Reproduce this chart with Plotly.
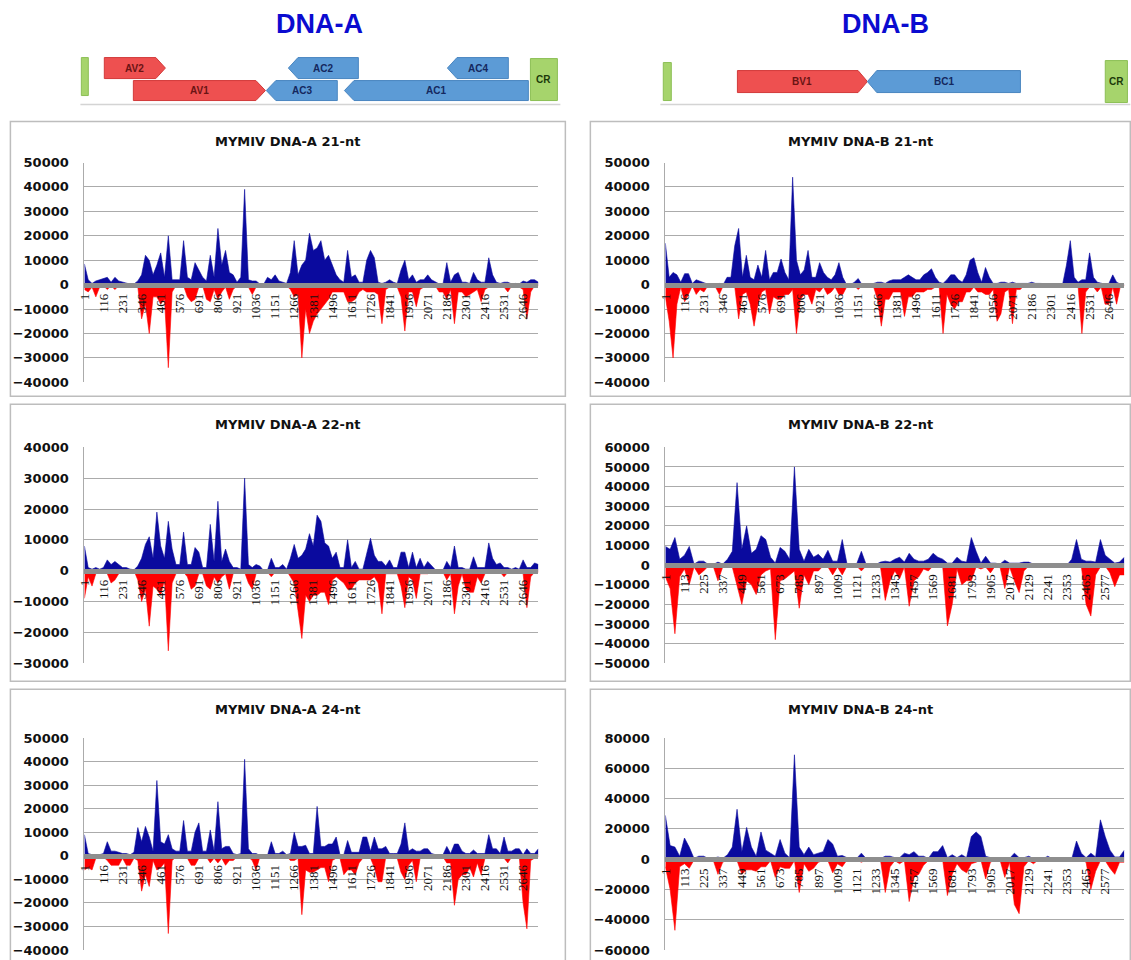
import plotly.graph_objects as go

W, H = 1131, 960
SCALE = 1000  # series values below are read in thousands of reads

# ---------------- sampling grids (nucleotide positions) ----------------
STEP_A = 23
STEP_B = 28
POS_A = list(range(1, 1 + STEP_A * 120, STEP_A))   # 1 .. 2738
POS_B = list(range(1, 1 + STEP_B * 97, STEP_B))    # 1 .. 2689

TICKS_A = [1, 116, 231, 346, 461, 576, 691, 806, 921, 1036, 1151, 1266, 1381, 1496,
           1611, 1726, 1841, 1956, 2071, 2186, 2301, 2416, 2531, 2646]
TICKS_B = [1, 113, 225, 337, 449, 561, 673, 785, 897, 1009, 1121, 1233, 1345, 1457,
           1569, 1681, 1793, 1905, 2017, 2129, 2241, 2353, 2465, 2577]

# ---------------- DNA-A 21-nt ----------------
A21_POS = [8.5, 2, 0.5, 1.5, 2, 2.5, 3, 1, 3, 1.5, 1, 0.5, 0.2, 0.3, 1.5,
           4, 12, 10, 4, 8, 13, 3, 20, 2, 2, 2, 18, 3, 2, 9,
           6, 3, 1.5, 12, 3, 23, 8, 14, 5, 4, 1, 3, 39, 2, 1.5,
           1.5, 0.3, 0.2, 3, 2, 4, 1.5, 1, 0.5, 5, 18, 4, 8, 10, 21,
           14, 15, 18, 10, 12, 8, 4, 2, 1, 14, 3, 4, 1, 1, 10,
           14, 11, 1, 0.5, 1, 2, 1, 0.5, 6, 10, 2, 4, 1, 2, 2,
           4, 2, 1, 0.3, 0.3, 9, 1, 4, 5, 1, 1, 0.5, 5, 2, 1,
           1, 11, 4, 1, 0.5, 1, 1, 0.3, 0.5, 0.3, 1.5, 1, 2, 2, 1]
A21_NEG = [-2, -3, -1, -5, -1, -0.5, -2, -0.5, -2, -0.5, 0, 0, 0, 0, -1,
           -14, -8, -20, -5, -5, -8, -6, -34, -3, -0.5, -0.5, -0.5, -5, -7, -6,
           -1, -0.5, -6, -7, -2, -6, -3, -1, -6, -2, -0.5, -0.5, -0.5, -1, -4,
           -1, 0, 0, -0.5, -1, -1, -0.5, 0, -0.5, -2, -5, -4, -30, -10, -20,
           -15, -12, -10, -8, -6, -3, -3, -3, -3, -7, -7, -6, -3, -2, -3,
           -3, -3, -4, -16, -2, -1, -1, -1, -5, -19, -3, -3, -9, -2, -1,
           -0.5, -0.5, -0.5, -3, -3, -6, -2, -16, -3, -3, -5, -4, -3, -2, -7,
           -2, -1, -0.5, -0.5, -1, -1, -3, -0.5, -0.5, -1, -2, -14, -3, -0.5, -0.5]

# ---------------- DNA-A 22-nt ----------------
A22_POS = [8, 1, 0.5, 1, 0.5, 1, 3.5, 2, 3, 2, 1, 1, 0.5, 0.3, 1.5,
           4, 8.5, 11, 4, 19, 8, 4, 16, 7, 2, 2, 12.5, 2, 2, 7.5,
           6, 1, 1, 15, 3, 22.5, 3, 7, 3, 1, 1, 0.5, 30, 2, 1,
           2, 1.5, 0, 0.2, 4, 1, 1, 2, 0.5, 4, 8.5, 4, 5, 7, 12,
           8, 18, 16, 9, 8, 4, 6, 1, 1, 10, 1, 3, 0.5, 0.5, 6,
           10.5, 5, 3, 3, 1.5, 3.5, 1, 1, 6, 6, 1, 6, 1, 4, 1,
           3, 1.5, 0.3, 0.2, 0.2, 3, 1, 8, 1, 1, 0.5, 0.5, 4.5, 1, 1,
           1, 9, 4, 2, 2.5, 1, 1, 0.5, 1, 0.5, 3.5, 1, 1, 2.5, 2]
A22_NEG = [-9, -2, -5, -1, -0.5, -0.5, -1, -4, -3, -1, 0, 0, 0, 0, -3,
           -10, -6, -18, -5, -6, -8, -3, -26, -4, -1, -0.5, -0.5, -2, -6, -5,
           -1, -1, -5, -6, -2, -4, -2, -1, -6, -1, -0.5, -0.5, -0.5, -4, -6,
           -1, 0, 0, -0.5, -2, -0.5, 0, 0, 0, -2, -4, -13, -22, -8, -10,
           -8, -8, -7, -7, -11, -3, -2, -3, -4, -6, -6, -4, -3, -3, -3,
           -3, -2, -4, -14, -1, -1, -1, -1, -5, -12, -2, -3, -9, -1, -1,
           -1, -0.5, -0.5, -0.5, -0.5, -3, -1, -14, -5, -1, -6, -7, -7, -2, -4,
           -1, -0.5, -0.5, -0.5, -0.5, -2, -0.5, -0.5, -0.5, -0.5, -1, -12, -2, -0.5, -0.5]

# ---------------- DNA-A 24-nt ----------------
A24_POS = [9, 1, 0.5, 0.5, 0.5, 1, 6, 2, 2, 1.5, 1, 1, 0.5, 1.5, 12,
           6, 12.5, 8, 2, 32, 6, 5, 9, 3, 2, 2, 15, 2, 2, 10,
           14, 2, 2, 11, 2, 23, 3, 4, 4, 1, 0.5, 1, 41, 3, 1,
           1, 0.2, 0, 0.2, 6, 1, 1, 2, 0.5, 1, 10, 4, 4, 4.5, 1,
           1, 21, 4, 4, 5, 5, 8, 0.5, 0.5, 6.5, 1.5, 1.5, 1.5, 8, 8,
           2, 8, 3, 3, 4, 1, 1, 1, 5, 14, 2, 3, 2, 2, 3,
           3, 1, 0.5, 0.5, 0.5, 4, 1, 5, 5, 2, 1, 1, 2.5, 1, 1,
           1, 9, 3, 3, 1, 8, 2, 2, 3, 3, 0.5, 3, 1, 1, 3]
A24_NEG = [-6, -5, -6, -1, -1, -0.5, -2, -4, -4, -4, -1, -4, -4, -1, -2,
           -15, -8, -13, -2, -6, -5, -3, -33, -2, -0.5, -0.5, -0.5, -1, -4, -4,
           -1, -0.5, -0.5, -3, -1, -3, -1, -4, -2, -2, -0.5, -0.5, -0.5, -0.5, -2,
           -6, -0.5, 0, 0, -0.5, -0.5, -0.5, 0, 0, -2, -2, -1, -25, -6, -7,
           -7, -6, -5, -5, -11, -2, -1, -1, -8, -6, -6, -8, -3, -1, -1,
           -1, -5, -11, -11, -0.5, -0.5, -1, -1, -7, -10, -4, -2, -11, -1, -0.5,
           -0.5, -0.5, -0.5, -0.5, -0.5, -3, -3, -21, -10, -8, -8, -5, -9, -3, -8,
           -1, -0.5, -0.5, -0.5, -0.5, -1, -3, -0.5, -0.5, -0.5, -20, -31, -2, -1, -0.5]

# ---------------- DNA-B 21-nt ----------------
B21_POS = [17, 3, 5, 4, 1, 4.5, 4.5, 0.5, 2, 1.5, 1, 0.2, 0.2, 0.2, 0.5,
           0, 3, 3, 16, 23, 3, 12, 3, 2, 8, 3, 14, 2, 5, 5,
           10.5, 5, 2, 44, 10, 4, 6, 14, 3, 3, 9, 5, 3, 2, 4,
           9, 3, 0, 0, 1, 2.5, 0, 0, 0, 0.5, 1, 1, 0.5, 1.5, 2,
           2, 2, 3, 4, 3, 2, 2, 4, 5, 6.5, 3, 1, 0.5, 2, 4,
           4, 2, 1, 4, 10, 11, 5, 1, 7, 3, 0.5, 0.5, 1, 1, 0.5,
           1, 0.5, 0.5, 0.5, 0.5, 1, 0.5, 0.5, 0.5, 0.3, 0.2, 0.5, 0.2, 0.2, 8,
           18, 3, 1, 2, 2, 13, 3, 1, 0.5, 0.2, 0.5, 4, 1, 0.2, 0]
B21_NEG = [-5, -15, -30, -8, -1, -7, -4, -0.5, -4, -2, -3, -0.5, -0.5, -1, -4,
           -0.5, -0.5, -0.5, -1, -14, -4, -3, -8, -17, -8, -3, -2, -12, -5, -6,
           -6, -4, -4, -2, -20, -6, -4, -4, -8, -2, -3, -1, -4, -3, -1,
           -4, -4, -1, -0.5, -0.5, -2, -0.5, 0, 0, -1, -6, -17, -6, -6, -3,
           -3, -3, -13, -5, -5, -3, -3, -3, -2, -2, -1, -1, -20, -4, -8,
           -10, -7, -7, -3, -3, -1, -3, -3, -4, -4, -2, -15, -12, -3, -2,
           -16, -2, -2, -0.5, -0.5, -0.5, -0.5, -0.5, -0.5, -0.5, -0.5, -0.5, -0.5, -0.5, -0.5,
           -0.5, -0.5, -0.5, -20, -3, -1, -1, -3, -1, -8, -8, -1, -8, -0.5, -0.5]

# ---------------- DNA-B 22-nt ----------------
B22_POS = [9.5, 8, 14, 3, 5, 9.5, 0.5, 2, 2, 0.3, 0.3, 1.5,
           0.5, 3, 7, 42, 8, 20, 6, 8, 15, 13, 4, 1,
           9, 7, 3, 50, 8, 2, 8, 4, 5.5, 3, 7.5, 2,
           2, 13, 0.5, 0.5, 0.5, 7, 0.3, 0.3, 0.3, 1.5, 2, 1.5,
           3, 4, 1.5, 6, 3, 2, 2, 3, 6, 4, 3, 1,
           1, 4, 2, 1.5, 14, 7, 1, 4.5, 1, 1, 0.5, 2.5,
           1, 1, 1, 1.5, 1.5, 0.5, 0.5, 0.2, 0.1, 0, 0, 0,
           0, 3, 13, 3, 2, 2, 1.5, 13, 5, 3, 1, 1.5, 4]
B22_NEG = [-6, -12, -35, -6, -2, -10, -1, -5, -3, -0.5, -0.5, -8,
           -1, -0.5, -1, -10, -20, -8, -10, -15, -5, -3, -2, -38,
           -8, -7, -5, -3, -22, -5, -10, -3, -3, -0.5, -1, -5,
           -1, -5, -0.5, -0.5, -0.5, -3, -0.5, -0.5, -0.5, -1, -18, -8,
           -3, -7, -1, -21, -8, -6, -2, -3, -0.5, -0.5, -0.5, -31,
           -20, -2, -10, -8, -8, -1, -2, -1, -4, -0.5, -1, -12,
           -1, -8, -14, -3, -0.5, -0.3, -0.3, -0.2, -0.2, -0.2, -0.2, -0.2,
           -0.3, -0.5, -0.5, -0.5, -20, -26, -5, -1, -0.5, -4, -11, -5, -5]

# ---------------- DNA-B 24-nt ----------------
B24_POS = [29, 9, 8, 2, 14, 8, 0.5, 2, 2, 0.5, 0.5, 1.5,
           0.5, 3, 8, 33, 5, 21, 8, 2, 18, 6, 4, 2,
           13, 4, 1, 69, 8, 3, 8, 3, 4, 5, 13, 10,
           2, 2.5, 1, 1, 0.5, 4, 0.5, 0.5, 0.5, 0.5, 2, 2,
           1, 1, 4, 3, 5, 2, 2, 0.5, 5, 5, 9, 1,
           3, 1, 3, 1, 15, 18, 15, 2, 1, 0.5, 0.5, 1,
           0.5, 4, 1, 1, 2, 0.5, 1, 0.3, 2, 0.2, 0.1, 0.2,
           0.5, 0.2, 12, 4, 1, 4, 1.5, 26, 15, 6, 1.5, 1.5, 6]
B24_NEG = [-5, -20, -47, -5, -3, -6, -0.5, -0.5, -0.5, -0.5, -0.5, -10,
           -2, -0.5, -0.5, -1, -10, -7, -7, -8, -5, -5, -1, -12,
           -5, -6, -6, -1, -22, -3, -8, -6, -2, -1, -1, -9,
           -3, -5, -0.5, -0.5, -0.5, -2, -0.5, -0.5, -0.5, -0.5, -22, -5,
           -1, -3, -1, -28, -12, -10, -4, -1, -0.5, -0.5, -0.5, -24,
           -10, -3, -7, -9, -3, -2, -0.5, -13, -2, -0.5, -0.5, -12,
           -2, -30, -36, -5, -1, -3, -0.5, -0.5, -0.5, -0.5, -0.5, -0.5,
           -0.5, -0.5, -0.5, -0.5, -2, -20, -8, -1, -1, -6, -10, -2, -2]

# ---------------- genome maps (positions in nt along the map) ----------------
MAP_A_NAMES = ["AV2", "AV1", "AC2", "AC3", "AC4", "AC1"]
MAP_A_START = [149, 316, 1207, 1080, 2121, 1529]
MAP_A_END = [500, 1075, 1609, 1488, 2471, 2586]
MAP_A_STRAND = [1, 1, -1, -1, -1, -1]
MAP_A_TRACK = [1, 0, 1, 0, 1, 0]
MAP_A_CR = [2598, 2753]
MAP_A_MARK = [17, 57]

MAP_B_NAMES = ["BV1", "BC1"]
MAP_B_START = [464, 1227]
MAP_B_END = [1227, 2125]
MAP_B_STRAND = [1, -1]
MAP_B_TRACK = [0, 0]
MAP_B_CR = [2623, 2753]
MAP_B_MARK = [29, 76]

# ---------------- styling ----------------
BLUE = "#0a0a9e"
RED = "#ff0000"
GRID = "#ababab"
BAND = "#8e8e8e"
BOX = "#bdbdbd"

# small calibration between the intended picture pixels and the rendered page
CAL_X = (7.6, 0.993)
CAL_Y = (6.4, 0.985)


def px(x):
    return ((x - CAL_X[0]) / CAL_X[1]) / W


def py(y):
    return 1 - ((y - CAL_Y[0]) / CAL_Y[1]) / H


PANELS = [
    ("MYMIV DNA-A 21-nt", POS_A, A21_POS, A21_NEG, (-40000, 50000), 10000, TICKS_A,
     (10, 121, 565, 396), (84, 162, 538, 382)),
    ("MYMIV DNA-A 22-nt", POS_A, A22_POS, A22_NEG, (-30000, 40000), 10000, TICKS_A,
     (10, 404, 565, 681), (84, 447, 538, 663)),
    ("MYMIV DNA-A 24-nt", POS_A, A24_POS, A24_NEG, (-40000, 50000), 10000, TICKS_A,
     (10, 689, 565, 963), (84, 738, 538, 950)),
    ("MYMIV DNA-B 21-nt", POS_A, B21_POS, B21_NEG, (-40000, 50000), 10000, TICKS_A,
     (590, 121, 1130, 396), (665, 162, 1124, 382)),
    ("MYMIV DNA-B 22-nt", POS_B, B22_POS, B22_NEG, (-50000, 60000), 10000, TICKS_B,
     (590, 404, 1130, 681), (665, 447, 1124, 663)),
    ("MYMIV DNA-B 24-nt", POS_B, B24_POS, B24_NEG, (-60000, 80000), 20000, TICKS_B,
     (590, 689, 1130, 963), (665, 738, 1124, 950)),
]

fig = go.Figure()
layout = dict(
    width=W, height=H, margin=dict(l=0, r=0, t=0, b=0),
    paper_bgcolor="white", plot_bgcolor="white", showlegend=False,
)
shapes = []
annotations = []

for k, (title, xs, pos, neg, yr, dt, ticks, box, plot) in enumerate(PANELS, start=1):
    x0, y0, x1, y1 = plot
    ymin, ymax = yr
    top, bot = py(y0), py(y1)
    zero_paper = bot + (0 - ymin) / (ymax - ymin) * (top - bot)
    fig.add_trace(go.Scatter(
        x=xs, y=[v * SCALE for v in neg], mode="lines", fill="tozeroy",
        line=dict(color=RED, width=0.6), fillcolor=RED,
        xaxis=f"x{k}", yaxis=f"y{k}", hoverinfo="skip"))
    fig.add_trace(go.Scatter(
        x=xs, y=[v * SCALE for v in pos], mode="lines", fill="tozeroy",
        line=dict(color=BLUE, width=0.6), fillcolor=BLUE,
        xaxis=f"x{k}", yaxis=f"y{k}", hoverinfo="skip"))
    layout[f"xaxis{k}"] = dict(
        domain=[px(x0), px(x1)], range=[xs[0], xs[-1]],
        anchor="free", position=zero_paper,
        showgrid=False, zeroline=False,
        showline=True, linecolor=BAND, linewidth=5,
        tickmode="array", tickvals=ticks, ticktext=[str(t) for t in ticks],
        tickangle=-90, ticks="", ticklabelstandoff=1,
        tickfont=dict(family="Liberation Serif", size=13, color="#111"),
    )
    layout[f"yaxis{k}"] = dict(
        domain=[bot, top], range=[ymin, ymax], dtick=dt, tick0=0,
        anchor=f"x{k}", showgrid=True, gridcolor=GRID, gridwidth=1,
        zeroline=False, showline=True, linecolor=GRID, linewidth=1,
        ticks="", ticklabelstandoff=12, tickformat="d",
        tickfont=dict(family="DejaVu Sans", size=13, color="#111", weight="bold"),
    )
    bx0, by0, bx1, by1 = box
    shapes.append(dict(type="rect", xref="paper", yref="paper",
                       x0=px(bx0), x1=px(bx1), y0=py(by1), y1=py(by0),
                       line=dict(color=BOX, width=1.5), layer="below"))
    annotations.append(dict(
        text=title, xref="paper", yref="paper", x=px((bx0 + bx1) / 2), y=py(by0 + 20),
        showarrow=False, xanchor="center", yanchor="middle",
        font=dict(family="DejaVu Sans", size=13, color="#111", weight="bold")))

# ---------------- headers ----------------
for label, cx in (("DNA-A", 319), ("DNA-B", 885)):
    annotations.append(dict(
        text=label, xref="paper", yref="paper", x=px(cx), y=py(23),
        showarrow=False, xanchor="center", yanchor="middle",
        font=dict(family="Liberation Sans", size=27, color="#0b0bd0", weight="bold")))

# ---------------- genome maps ----------------
RED_GENE = "#ee5050"
BLUE_GENE = "#5c9bd6"
GREEN = "#a6d46c"
HEAD = 55


def arrow(start, end, strand, ylo, yhi):
    ym = (ylo + yhi) / 2
    if strand > 0:
        return ([start, end - HEAD, end, end - HEAD, start, start],
                [ylo, ylo, ym, yhi, yhi, ylo])
    return ([end, start + HEAD, start, start + HEAD, end, end],
            [ylo, ylo, ym, yhi, yhi, ylo])


MAPS = [
    (7, (78, 560), MAP_A_NAMES, MAP_A_START, MAP_A_END, MAP_A_STRAND, MAP_A_TRACK,
     MAP_A_CR, MAP_A_MARK, {1: (27, 48), 0: (5, 25)}, (10, 48), (5, 47)),
    (8, (658, 1130), MAP_B_NAMES, MAP_B_START, MAP_B_END, MAP_B_STRAND, MAP_B_TRACK,
     MAP_B_CR, MAP_B_MARK, {0: (13, 35)}, (5, 43), (3, 45)),
]

for k, (mx0, mx1), names, starts, ends, strands, tracks, cr, mark, rows, mark_y, cr_y in MAPS:
    xa, ya = f"x{k}", f"y{k}"
    layout[f"xaxis{k}"] = dict(domain=[px(mx0), px(mx1)], range=[0, 2770], visible=False,
                               anchor=ya)
    layout[f"yaxis{k}"] = dict(domain=[py(105), py(53)], range=[0, 52], visible=False,
                               anchor=xa)
    fig.add_trace(go.Scatter(
        x=[mark[0], mark[1], mark[1], mark[0], mark[0]],
        y=[mark_y[0], mark_y[0], mark_y[1], mark_y[1], mark_y[0]],
        mode="lines", fill="toself", fillcolor=GREEN, line=dict(color="#8cbf55", width=1),
        xaxis=xa, yaxis=ya, hoverinfo="skip"))
    fig.add_trace(go.Scatter(
        x=[cr[0], cr[1], cr[1], cr[0], cr[0]],
        y=[cr_y[0], cr_y[0], cr_y[1], cr_y[1], cr_y[0]],
        mode="lines", fill="toself", fillcolor=GREEN, line=dict(color="#8cbf55", width=1),
        xaxis=xa, yaxis=ya, hoverinfo="skip"))
    annotations.append(dict(text="CR", x=(cr[0] + cr[1]) / 2, y=(cr_y[0] + cr_y[1]) / 2,
                            xref=xa, yref=ya, showarrow=False,
                            font=dict(family="Liberation Sans", size=10, color="#1d3a0a",
                                      weight="bold")))
    for name, s, e, st, tr in zip(names, starts, ends, strands, tracks):
        ylo, yhi = rows[tr]
        gx, gy = arrow(s, e, st, ylo, yhi)
        fc = RED_GENE if st > 0 else BLUE_GENE
        lc = "#d23a3a" if st > 0 else "#4a86c0"
        fig.add_trace(go.Scatter(x=gx, y=gy, mode="lines", fill="toself", fillcolor=fc,
                                 line=dict(color=lc, width=1), xaxis=xa, yaxis=ya,
                                 hoverinfo="skip"))
        annotations.append(dict(text=name, x=(s + e) / 2, y=(ylo + yhi) / 2,
                                xref=xa, yref=ya, showarrow=False,
                                font=dict(family="Liberation Sans", size=10,
                                          color="#6a1414" if st > 0 else "#14285e",
                                          weight="bold")))
    shapes.append(dict(type="line", xref="paper", yref="paper",
                       x0=px(mx0 + 2), x1=px(mx1), y0=py(104), y1=py(104),
                       line=dict(color="#d4d4d4", width=1.5)))

layout["shapes"] = shapes
layout["annotations"] = annotations
fig.update_layout(**layout)
fig.write_html(
    "out.html",
    config={"displayModeBar": False},
    post_script="document.body.style.margin='0';document.body.style.overflow='hidden';",
)
